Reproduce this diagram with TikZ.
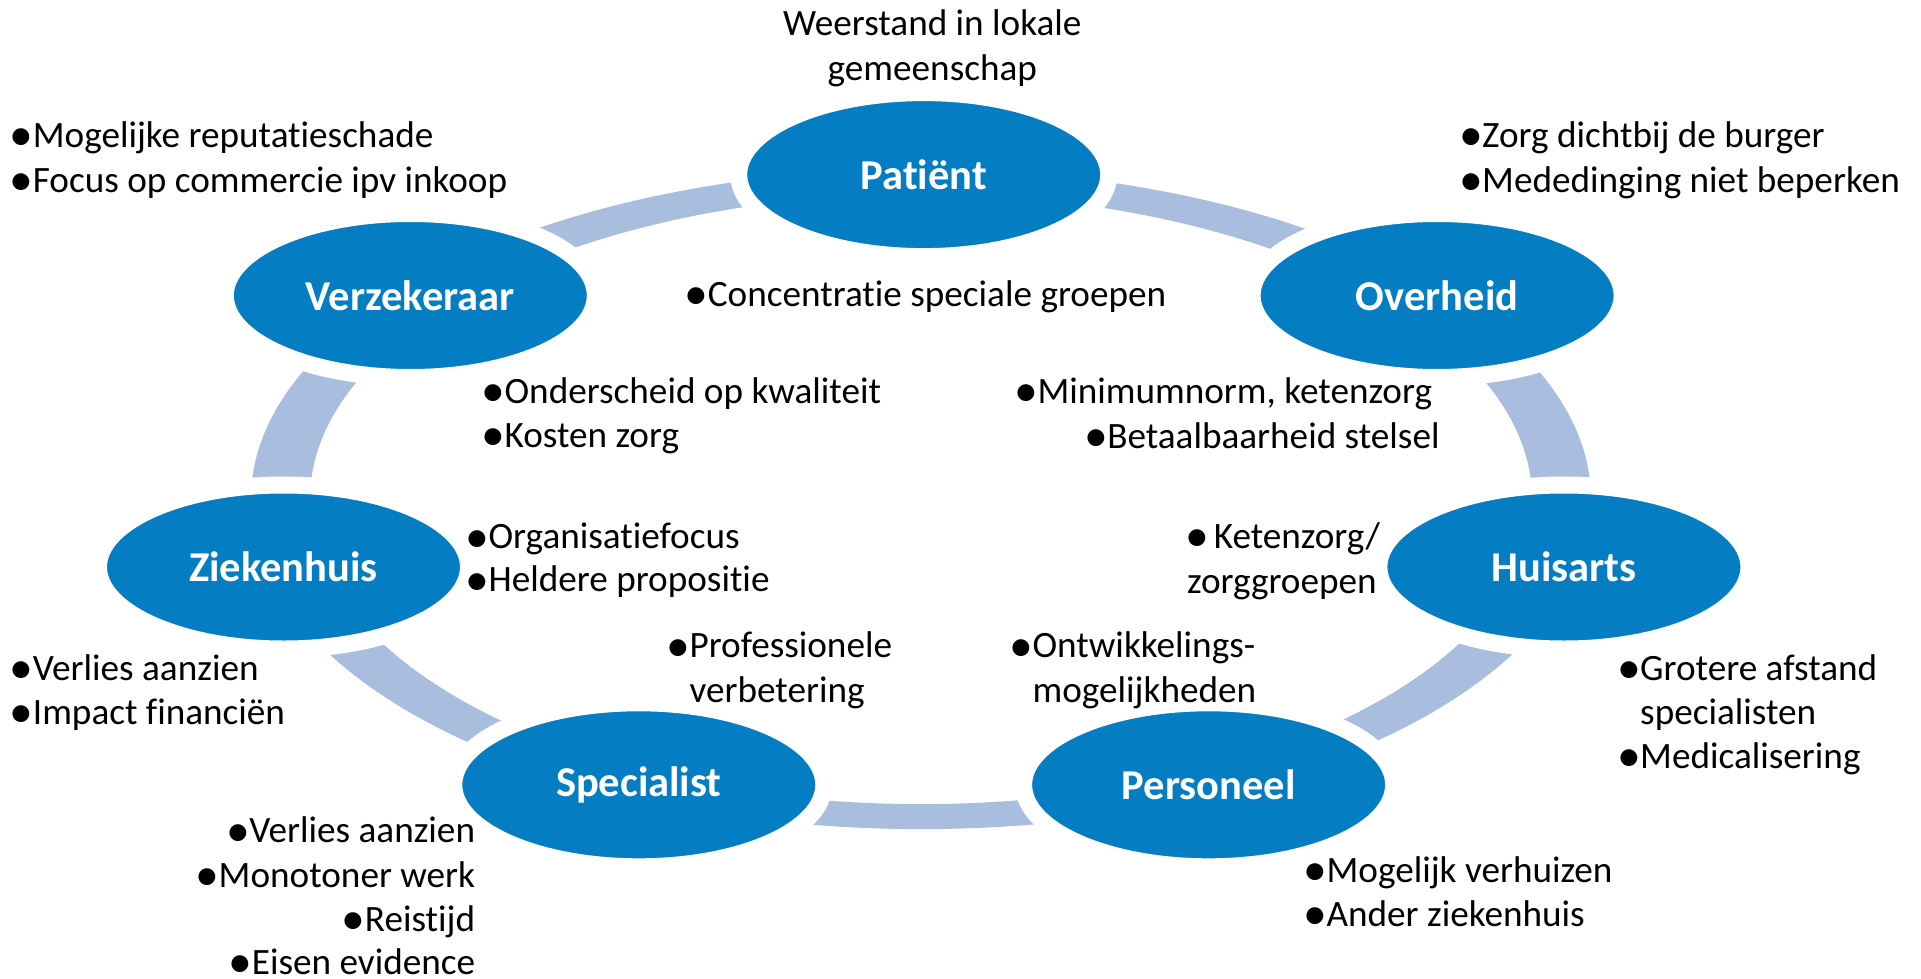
\documentclass[tikz,border=0pt]{standalone}
\usepackage{fontspec}
\usepackage{graphicx}
\setmainfont{Carlito}[Ligatures={NoCommon,NoContextual}]
\usetikzlibrary{shapes.geometric}
\definecolor{nodeblue}{RGB}{4,125,194}
\definecolor{ringblue}{RGB}{169,190,222}
% enlarged bullet glyph, and a bullet followed by the hanging indent of the list
\newcommand{\bigbul}{\raisebox{-3.2pt}{\scalebox{1.28}{\textbullet}}}
\newcommand{\bul}{\makebox[18pt][l]{\hspace*{-5pt}\bigbul}}
\newcommand{\hang}{\hspace*{18pt}}
\begin{document}
\begin{tikzpicture}[x=1pt,y=-1pt,
  actor/.style={ellipse, fill=nodeblue, draw=white, line width=17pt,
    minimum width=370pt, minimum height=164pt, inner sep=0pt,
    text=white, font=\fontsize{42.5}{50}\selectfont\bfseries},
  txt/.style={inner sep=0pt, anchor=base west, font=\fontsize{37.2}{45}\selectfont},
  txtr/.style={txt, anchor=base east},
  txtc/.style={txt, anchor=base}]
\useasboundingbox (0,0) rectangle (1921,979);

% the ring on which the seven parties sit
\fill[ringblue, even odd rule]
  (921,499.1) ellipse [x radius=670, y radius=330]
  (921,499.1) ellipse [x radius=611, y radius=305];

% parties
\node[actor] (pat) at (923.7,174.6) {Patiënt};
\node[actor] (ove) at (1437.1,295.5) {Overheid};
\node[actor] (hui) at (1563.9,567.0) {Huisarts};
\node[actor] (per) at (1208.6,784.8) {Personeel};
\node[actor] (spe) at (638.8,784.8) {Specialist};
\node[actor] (zie) at (283.5,567.0) {Ziekenhuis};
\node[actor] (ver) at (410.3,295.5) {Verzekeraar};

% Patiënt
\node[txtc] (pat1) at (932.3,35.5) {Weerstand in lokale};
\node[txtc] (pat2) at (932.3,81) {gemeenschap};
\node[txt] (pat3) at (689.7,306.3) {\bul Concentratie speciale groepen};

% Verzekeraar
\node[txt] (ver1) at (14.7,147.1) {\bul Mogelijke reputatieschade};
\node[txt] (ver2) at (14.7,192.4) {\bul Focus op commercie ipv inkoop};
\node[txt] (ver3) at (486.4,403.1) {\bul Onderscheid op kwaliteit};
\node[txt] (ver4) at (486.4,447.2) {\bul Kosten zorg};

% Overheid
\node[txt] (ove1) at (1464,147.1) {\bul Zorg dichtbij de burger};
\node[txt] (ove2) at (1464,192.4) {\bul Mededinging niet beperken};
\node[txt] (ove3) at (1019.3,403.5) {\bul Minimumnorm, ketenzorg};
\node[txt] (ove4) at (1089.1,448.5) {\bul Betaalbaarheid stelsel};

% Huisarts
\node[txt] (hui1) at (1187,548.5) {\hspace*{-1.5pt}\bigbul\hspace*{-4pt}\ Ketenzorg/};
\node[txt] (hui2) at (1187,593) {zorggroepen};
\node[txt] (hui3) at (1622,680) {\bul Grotere afstand};
\node[txt] (hui4) at (1622,724.1) {\hang specialisten};
\node[txt] (hui5) at (1622,768.2) {\bul Medicalisering};

% Ziekenhuis
\node[txt] (zie1) at (470.4,548.9) {\bul Organisatiefocus};
\node[txt] (zie2) at (470.4,591.8) {\bul Heldere propositie};
\node[txt] (zie3) at (14.7,680) {\bul Verlies aanzien};
\node[txt] (zie4) at (14.7,724.1) {\bul Impact financiën};

% Specialist
\node[txt] (spe1) at (671.4,657.9) {\bul Professionele};
\node[txt] (spe2) at (671.4,702) {\hang verbetering};
\node[txtr] (spe3) at (475.3,842.9) {\bul Verlies aanzien};
\node[txtr] (spe4) at (475.3,887) {\bul Monotoner werk};
\node[txtr] (spe5) at (475.3,931.1) {\bul Reistijd};
\node[txtr] (spe6) at (475.3,974.5) {\bul Eisen evidence};

% Personeel
\node[txt] (per1) at (1014.4,657.9) {\bul Ontwikkelings-};
\node[txt] (per2) at (1014.4,702) {\hang mogelijkheden};
\node[txt] (per3) at (1308.4,882.1) {\bul Mogelijk verhuizen};
\node[txt] (per4) at (1308.4,926.2) {\bul Ander ziekenhuis};
\end{tikzpicture}
\end{document}
